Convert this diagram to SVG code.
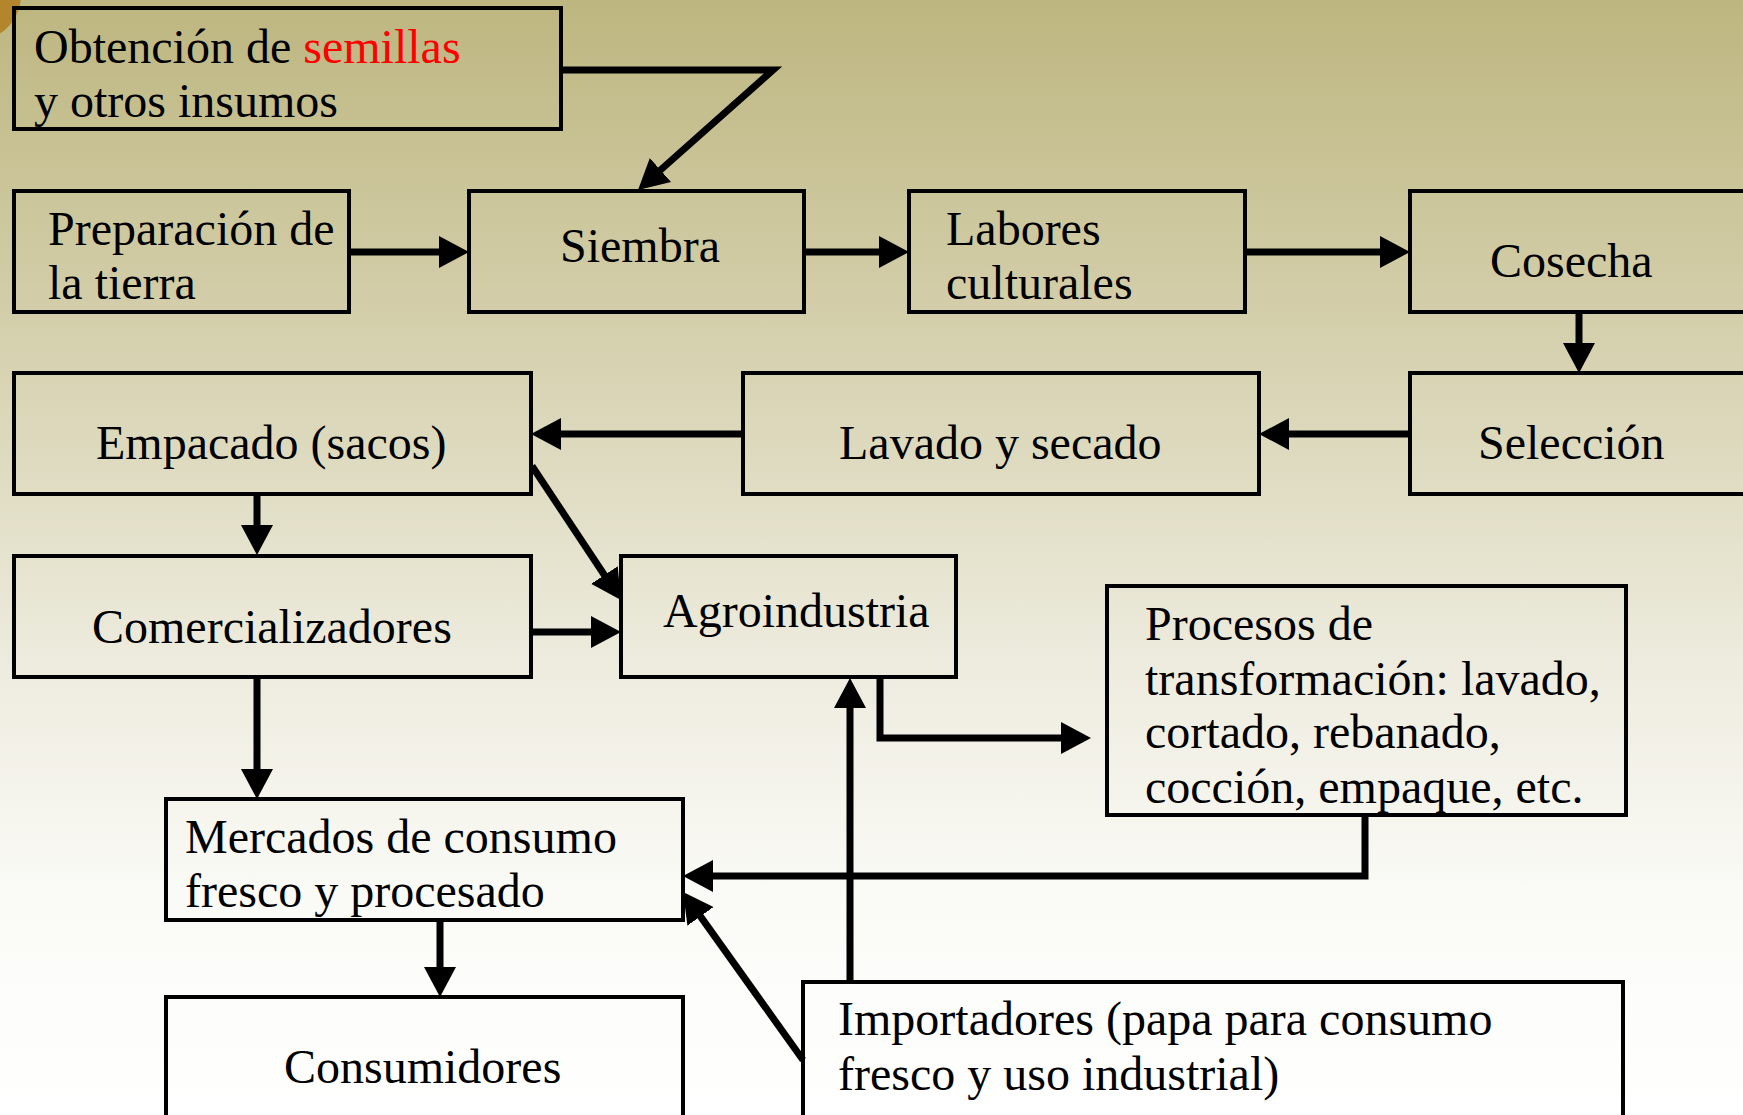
<svg xmlns="http://www.w3.org/2000/svg" width="1743" height="1115" viewBox="0 0 1743 1115">
<style>
.box{fill:none;stroke:#000;stroke-width:4}
.t{font-family:"Liberation Serif","Times New Roman",serif;font-size:48px;fill:#000}
.c{fill:none;stroke:#000;stroke-width:7;marker-end:url(#ah)}
</style>
<defs>
<linearGradient id="bg" x1="0" y1="0" x2="0" y2="1">
<stop offset="0" stop-color="#bdb680"/>
<stop offset="0.3" stop-color="#d5d0ad"/>
<stop offset="0.6" stop-color="#eeecdf"/>
<stop offset="0.8" stop-color="#fafaf6"/>
<stop offset="1" stop-color="#ffffff"/>
</linearGradient>
<marker id="ah" viewBox="0 0 30 32" refX="12" refY="16" markerWidth="30" markerHeight="32" markerUnits="userSpaceOnUse" orient="auto">
<path d="M0,0 L30,16 L0,32 z" fill="#000"/>
</marker>
</defs>
<rect x="0" y="0" width="1743" height="1115" fill="url(#bg)"/>
<circle cx="-25" cy="-5" r="46" fill="#b4862c"/>

<g id="connectors">
<path class="c" d="M561,70 L773,70 L651.5,178"/>
<path class="c" d="M349,252 L451,252"/>
<path class="c" d="M804,252 L891,252"/>
<path class="c" d="M1245,252 L1392,252"/>
<path class="c" d="M1579,312 L1579,355"/>
<path class="c" d="M1410,434 L1277,434"/>
<path class="c" d="M743,434 L549,434"/>
<path class="c" d="M257,494 L257,537"/>
<path class="c" d="M532,466 L611,585"/>
<path class="c" d="M531,632 L603,632"/>
<path class="c" d="M257,677 L257,781"/>
<path class="c" d="M880,677 L880,738 L1073,738"/>
<path class="c" d="M1365,815 L1365,876 L701,876"/>
<path class="c" d="M850,982 L850,696"/>
<path class="c" d="M803,1060 L693.5,906.6"/>
<path class="c" d="M440,920 L440,979"/>
</g>

<g id="obtencion">
<rect class="box" x="14" y="8" width="547" height="121"/>
<text class="t" x="34" y="63">Obtención de <tspan fill="#ff0000">semillas</tspan></text>
<text class="t" x="34" y="117">y otros insumos</text>
</g>
<g id="preparacion">
<rect class="box" x="14" y="191" width="335" height="121"/>
<text class="t" x="48" y="245">Preparación de</text>
<text class="t" x="48" y="299">la tierra</text>
</g>
<g id="siembra">
<rect class="box" x="469" y="191" width="335" height="121"/>
<text class="t" x="560" y="262">Siembra</text>
</g>
<g id="labores">
<rect class="box" x="909" y="191" width="336" height="121"/>
<text class="t" x="946" y="245">Labores</text>
<text class="t" x="946" y="299">culturales</text>
</g>
<g id="cosecha">
<rect class="box" x="1410" y="191" width="360" height="121"/>
<text class="t" x="1490" y="277">Cosecha</text>
</g>
<g id="seleccion">
<rect class="box" x="1410" y="373" width="360" height="121"/>
<text class="t" x="1478" y="459">Selección</text>
</g>
<g id="lavado">
<rect class="box" x="743" y="373" width="516" height="121"/>
<text class="t" x="839" y="459">Lavado y secado</text>
</g>
<g id="empacado">
<rect class="box" x="14" y="373" width="517" height="121"/>
<text class="t" x="96" y="459">Empacado (sacos)</text>
</g>
<g id="comercializadores">
<rect class="box" x="14" y="556" width="517" height="121"/>
<text class="t" x="92" y="643">Comercializadores</text>
</g>
<g id="agroindustria">
<rect class="box" x="621" y="556" width="335" height="121"/>
<text class="t" x="663" y="627">Agroindustria</text>
</g>
<g id="procesos">
<rect class="box" x="1107" y="586" width="519" height="229"/>
<text class="t" x="1145" y="640">Procesos de</text>
<text class="t" x="1145" y="695">transformación: lavado,</text>
<text class="t" x="1145" y="748">cortado, rebanado,</text>
<text class="t" x="1145" y="803">cocción, empaque, etc.</text>
</g>
<g id="mercados">
<rect class="box" x="166" y="799" width="517" height="121"/>
<text class="t" x="185" y="853">Mercados de consumo</text>
<text class="t" x="185" y="907">fresco y procesado</text>
</g>
<g id="consumidores">
<rect class="box" x="166" y="997" width="517" height="150"/>
<text class="t" x="284" y="1083">Consumidores</text>
</g>
<g id="importadores">
<rect class="box" x="803" y="982" width="820" height="160"/>
<text class="t" x="838" y="1035">Importadores (papa para consumo</text>
<text class="t" x="838" y="1090">fresco y uso industrial)</text>
</g>
</svg>
